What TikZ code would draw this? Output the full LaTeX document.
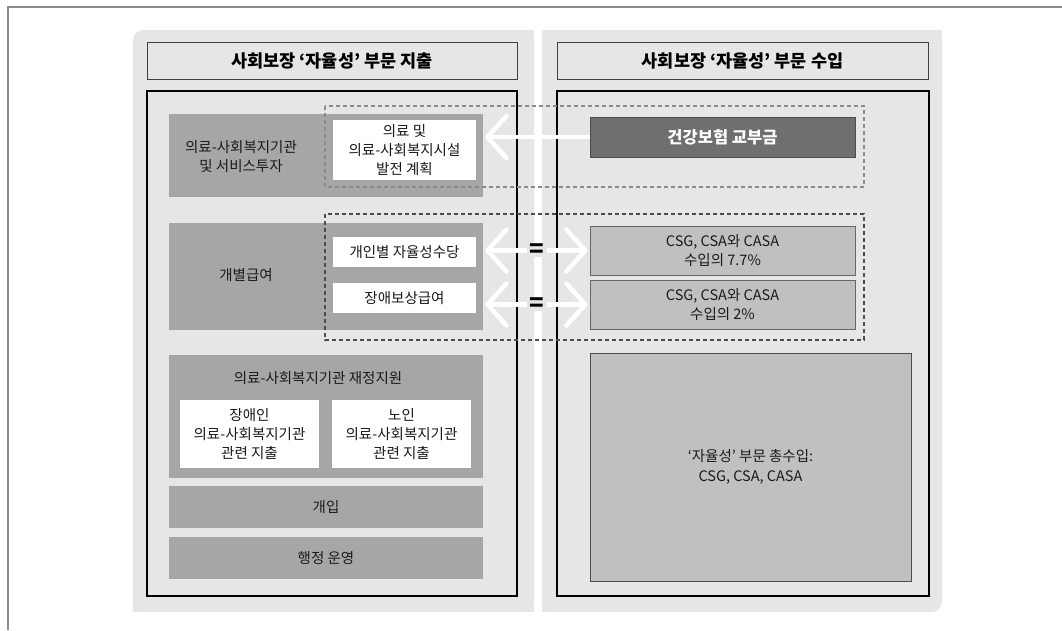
\documentclass[tikz,border=0pt]{standalone}
\usepackage{fontspec}
\usepackage{xcolor}
\usepackage{tikz}
\usetikzlibrary{arrows.meta,positioning,calc}
\newfontfamily\krfont{Noto Sans CJK KR}
\definecolor{panelgray}{HTML}{E6E6E6}
\definecolor{boxgray}{HTML}{A6A6A6}
\definecolor{lightbox}{HTML}{C0C0C0}
\definecolor{darkbox}{HTML}{6F6F6F}
\definecolor{textgray}{HTML}{1A1A1A}
\definecolor{framegray}{HTML}{8A8A8A}

\begin{document}
\begin{tikzpicture}[x=1pt, y=-1pt, font=\krfont\fontsize{14.5}{18.8}\selectfont, text=textgray,
  headbox/.style={draw=black!75, fill=panelgray, minimum width=370pt, minimum height=37pt,
                  font=\krfont\bfseries\fontsize{17.5}{20}\selectfont, text=black},
  graybox/.style={fill=boxgray, minimum width=314pt, inner sep=0pt},
  whitebox/.style={fill=white, minimum width=143pt, inner sep=0pt, align=center},
  incomebox/.style={draw=black!60, fill=lightbox, minimum width=265pt, minimum height=49pt,
                    inner sep=0pt, align=center, line width=0.8pt},
  wharrow/.style={draw=white, line width=4.5pt, -{Straight Barb[length=19pt,width=42pt,round]}},
  whboth/.style={draw=white, line width=4.5pt,
                 {Straight Barb[length=19pt,width=42pt,round]}-{Straight Barb[length=19pt,width=42pt,round]}},
  eqsign/.style={fill=panelgray, inner xsep=3pt, inner ysep=0pt, text=black,
                 font=\krfont\bfseries\fontsize{24}{24}\selectfont}]
  \useasboundingbox (0,0) rectangle (1062,630);
  % Outer frame
  \draw[framegray, line width=1.2pt] (8,630) -- (8,7) -- (1062,7);
  % Panels (one rounded corner each)
  \fill[panelgray, rounded corners=10pt] (133,30) rectangle (534,612);
  \fill[panelgray] (133,45) rectangle (534,612);
  \fill[panelgray] (148,30) rectangle (534,612);
  \fill[panelgray, rounded corners=10pt] (542,30) rectangle (942,612);
  \fill[panelgray] (542,30) rectangle (942,595);
  \fill[panelgray] (542,30) rectangle (925,612);
  % Headers
  \node[headbox] (outhead) at (332,60.5) {사회보장 ‘자율성’ 부문 지출};
  \node[headbox, minimum width=371pt] (inhead) at (742.5,60.5) {사회보장 ‘자율성’ 부문 수입};
  % Inner frames
  \draw[black, line width=1.8pt, fill=panelgray] (147,91) rectangle (517,596);
  \draw[black, line width=1.8pt, fill=panelgray] (557,91) rectangle (929,596);

  % Expenditure side
  \node[graybox, minimum height=83pt] (invest) at (326,155.5) {};
  \node[align=center] (investtxt) at (241,156.5) {의료-사회복지기관\\및 서비스투자};
  \node[whitebox, minimum height=60pt] (plan) at (404.5,150) {의료 및\\의료-사회복지시설\\발전 계획};

  \node[graybox, minimum height=107pt] (benefit) at (326,276.5) {};
  \node (benefittxt) at (246,275) {개별급여};
  \node[whitebox, minimum height=30pt] (allow) at (404.5,252) {개인별 자율성수당};
  \node[whitebox, minimum height=30pt] (comp) at (404.5,298) {장애보상급여};

  \node[graybox, minimum height=123pt] (fund) at (326,416.5) {};
  \node (fundtxt) at (318,378) {의료-사회복지기관 재정지원};
  \node[whitebox, minimum width=139pt, minimum height=68pt] (disab) at (249.5,434)
       {장애인\\의료-사회복지기관\\관련 지출};
  \node[whitebox, minimum width=139pt, minimum height=68pt] (elder) at (401.5,434)
       {노인\\의료-사회복지기관\\관련 지출};

  \node[graybox, minimum height=42pt] (interv) at (326,507) {개입};
  \node[graybox, minimum height=42pt] (admin) at (326,558) {행정 운영};

  % Income side
  \node[draw=black!70, fill=darkbox, minimum width=265pt, minimum height=40pt, text=white,
        font=\krfont\bfseries\fontsize{16.5}{20}\selectfont] (grant) at (722.5,137) {건강보험 교부금};
  \node[incomebox] (csga) at (722.5,250.5) {CSG, CSA와 CASA\\수입의 7.7\%};
  \node[incomebox] (csgb) at (722.5,304.5) {CSG, CSA와 CASA\\수입의 2\%};
  \node[incomebox, draw=black!70, minimum width=321pt, minimum height=228pt,
        font=\krfont\fontsize{14.5}{20.5}\selectfont] (total) at (750.5,467)
       {‘자율성’ 부문 총수입:\\CSG, CSA, CASA};

  % Dashed groups
  \draw[framegray, line width=1.1pt, dash pattern=on 4pt off 3pt] (325,106) rectangle (864,187);
  \draw[black!70, line width=1.1pt, dash pattern=on 4pt off 3pt] (325,214) rectangle (864,340);

  % Arrows
  \draw[wharrow] (grant.west) -- ([xshift=9pt]plan.east |- grant.west);
  \draw[whboth] ([xshift=9pt]allow.east |- csga.west) -- ([xshift=-2pt]csga.west);
  \draw[whboth] ([xshift=9pt]comp.east |- csgb.west) -- ([xshift=-2pt]csgb.west);
  \node[eqsign] (eqa) at (537,250.5) {=};
  \node[eqsign] (eqb) at (537,304.5) {=};
\end{tikzpicture}
\end{document}
